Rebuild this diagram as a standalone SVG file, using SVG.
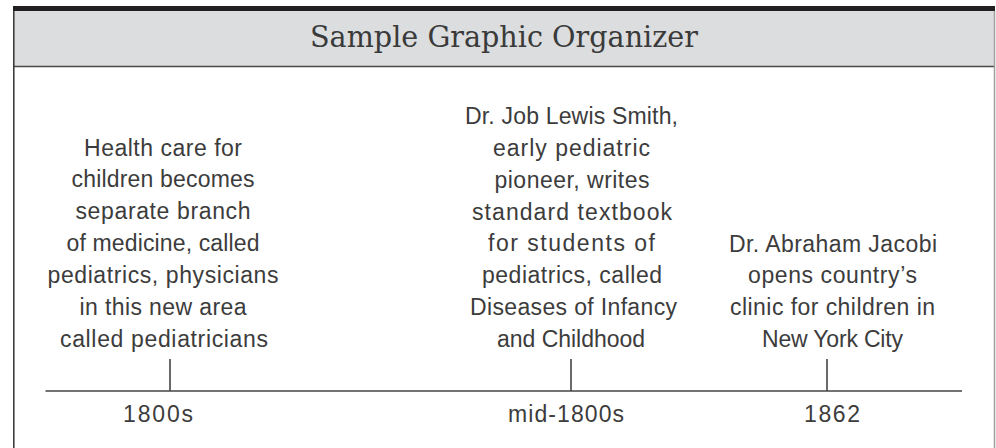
<svg xmlns="http://www.w3.org/2000/svg" width="996" height="448" viewBox="0 0 996 448">
  <style>
    .hand { font-family: "Liberation Sans", "DejaVu Sans", sans-serif; font-size: 23px; fill: #3c3c3c; text-anchor: middle; }
    .title { font-family: "DejaVu Serif", "Liberation Serif", serif; font-size: 29px; fill: #3a3a3a; text-anchor: middle; }
    .line { stroke: #444444; stroke-width: 1.6; fill: none; }
  </style>
  <rect x="0" y="0" width="996" height="448" fill="#ffffff"/>
  <g id="frame">
    <rect x="13.5" y="11" width="981" height="56" fill="#dcdddf"/>
    <rect x="13" y="6" width="982" height="5" fill="#231f20"/>
    <line x1="13" y1="66.5" x2="995" y2="66.5" stroke="#4a4a4a" stroke-width="1.6"/>
    <line x1="13.8" y1="11" x2="13.8" y2="448" stroke="#333333" stroke-width="1.5"/>
    <line x1="994.5" y1="11" x2="994.5" y2="448" stroke="#a0a0a0" stroke-width="1.5"/>
  </g>
  <g id="header">
    <text class="title" x="504" y="47" textLength="388" lengthAdjust="spacingAndGlyphs">Sample Graphic Organizer</text>
  </g>
  <g id="connectors">
    <line class="line" x1="45.5" y1="391" x2="962" y2="391"/>
    <line class="line" x1="170" y1="359" x2="170" y2="391"/>
    <line class="line" x1="571" y1="359" x2="571" y2="391"/>
    <line class="line" x1="827" y1="359" x2="827" y2="391"/>
  </g>
  <g id="event-1800s">
    <text class="hand" x="163" y="156" textLength="158" lengthAdjust="spacing">Health care for</text>
    <text class="hand" x="163" y="187" textLength="183" lengthAdjust="spacing">children becomes</text>
    <text class="hand" x="163" y="219" textLength="175" lengthAdjust="spacing">separate branch</text>
    <text class="hand" x="163" y="251" textLength="193" lengthAdjust="spacing">of medicine, called</text>
    <text class="hand" x="163" y="283" textLength="231" lengthAdjust="spacing">pediatrics, physicians</text>
    <text class="hand" x="163" y="315" textLength="167" lengthAdjust="spacing">in this new area</text>
    <text class="hand" x="164" y="347" textLength="208" lengthAdjust="spacing">called pediatricians</text>
    <text class="hand" x="158" y="422" textLength="70" lengthAdjust="spacing">1800s</text>
  </g>
  <g id="event-mid-1800s">
    <text class="hand" x="571.5" y="124" textLength="213" lengthAdjust="spacing">Dr. Job Lewis Smith,</text>
    <text class="hand" x="571.5" y="156" textLength="157" lengthAdjust="spacing">early pediatric</text>
    <text class="hand" x="572" y="188" textLength="155" lengthAdjust="spacing">pioneer, writes</text>
    <text class="hand" x="572" y="220" textLength="200" lengthAdjust="spacing">standard textbook</text>
    <text class="hand" x="571.5" y="251" textLength="167" lengthAdjust="spacing">for students of</text>
    <text class="hand" x="572" y="283" textLength="180" lengthAdjust="spacing">pediatrics, called</text>
    <text class="hand" x="573.5" y="315" textLength="207" lengthAdjust="spacing">Diseases of Infancy</text>
    <text class="hand" x="571" y="347" textLength="148" lengthAdjust="spacing">and Childhood</text>
    <text class="hand" x="566" y="422" textLength="116" lengthAdjust="spacing">mid-1800s</text>
  </g>
  <g id="event-1862">
    <text class="hand" x="833" y="252" textLength="208" lengthAdjust="spacing">Dr. Abraham Jacobi</text>
    <text class="hand" x="832.5" y="283" textLength="169" lengthAdjust="spacing">opens country’s</text>
    <text class="hand" x="832.5" y="315" textLength="205" lengthAdjust="spacing">clinic for children in</text>
    <text class="hand" x="832.5" y="347" textLength="141" lengthAdjust="spacing">New York City</text>
    <text class="hand" x="832" y="422" textLength="56" lengthAdjust="spacing">1862</text>
  </g>
</svg>
